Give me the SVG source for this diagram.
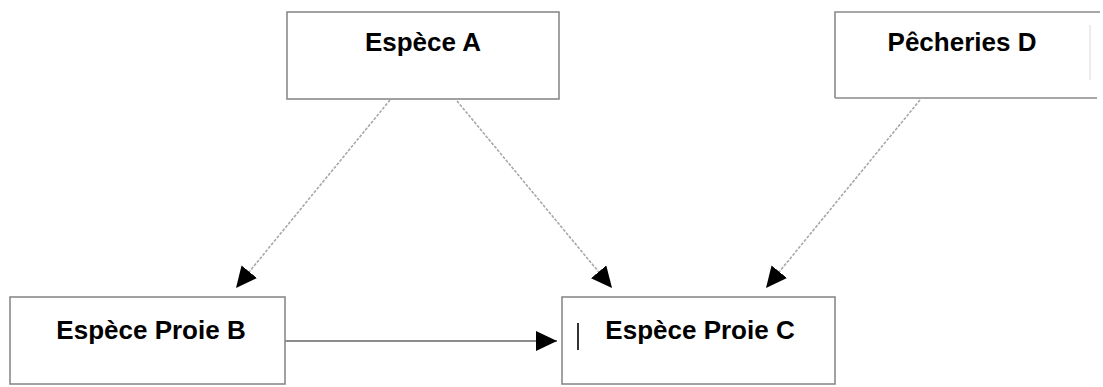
<svg xmlns="http://www.w3.org/2000/svg" width="1103" height="387" viewBox="0 0 1103 387">
<style>
.box{fill:#fff;stroke:#8a8a8a;stroke-width:1.6}
.lbl{font-family:"Liberation Sans",Arial,sans-serif;font-weight:bold;font-size:26px;fill:#000;text-anchor:middle}
.edge{stroke:#a8a8a8;stroke-width:1.6;fill:none;stroke-dasharray:3 1.5}
.solid{stroke:#666;stroke-width:1.6;fill:none}
</style>
<defs>
<marker id="arr" markerUnits="userSpaceOnUse" markerWidth="22" markerHeight="20" refX="21" refY="10" orient="auto">
<path d="M0,0 L21,10 L0,20 z" fill="#000"/>
</marker>
</defs>
<rect width="1103" height="387" fill="#fff"/>
<g id="connectors">
<line class="edge" x1="390" y1="100" x2="236" y2="288" marker-end="url(#arr)"/>
<line class="edge" x1="457" y1="101" x2="612" y2="288" marker-end="url(#arr)"/>
<line class="edge" x1="920" y1="100" x2="766" y2="288" marker-end="url(#arr)"/>
<line class="solid" x1="285" y1="341" x2="557" y2="341" marker-end="url(#arr)"/>
</g>
<g id="nodeA">
<rect class="box" x="287" y="12" width="272" height="87"/>
<text class="lbl" x="423" y="51">Espèce A</text>
</g>
<g id="nodeD">
<path class="box" d="M835,98 L835,12 L1100,12 M835,98 L1097,98"/>
<line x1="1090" y1="25" x2="1090" y2="80" stroke="#ececec" stroke-width="2"/>
<text class="lbl" x="962" y="51">Pêcheries D</text>
</g>
<g id="nodeB">
<rect class="box" x="10" y="297" width="275" height="87"/>
<text class="lbl" x="151" y="339">Espèce Proie B</text>
</g>
<g id="nodeC">
<rect class="box" x="562" y="297" width="273" height="87"/>
<line x1="578" y1="323" x2="578" y2="350" stroke="#333" stroke-width="2"/>
<text class="lbl" x="700" y="339">Espèce Proie C</text>
</g>
</svg>
